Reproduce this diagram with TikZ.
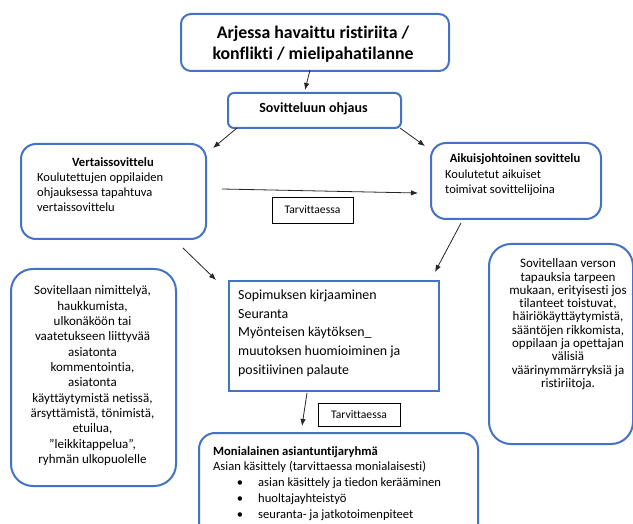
\documentclass[tikz,border=0pt]{standalone}
\usepackage{fontspec}
\setmainfont{Carlito}[Ligatures={NoCommon}]
\usetikzlibrary{arrows.meta}
\definecolor{boxblue}{RGB}{68,114,196}
\begin{document}
\begin{tikzpicture}[x=1pt,y=-1pt,
  bluebox/.style={draw=boxblue, line width=2pt, rounded corners=#1, inner sep=0pt, anchor=north west},
  plainbox/.style={draw=black, line width=0.8pt, inner sep=0pt, anchor=north west},
  txt/.style={inner sep=0pt, anchor=base},
  ltxt/.style={inner sep=0pt, anchor=base west},
  arr/.style={-{Latex[length=7pt,width=5.5pt]}, line width=0.8pt, draw=black!85},
  ftop/.style={font=\fontsize{17.8}{20}\selectfont\bfseries},
  fohj/.style={font=\fontsize{14}{16}\selectfont\bfseries},
  fhb/.style={font=\fontsize{12.6}{15}\selectfont\bfseries},
  fh/.style={font=\fontsize{12.5}{15}\selectfont},
  fside/.style={font=\fontsize{13}{15}\selectfont},
  fcen/.style={font=\fontsize{13.9}{16}\selectfont},
  fbot/.style={font=\fontsize{12.6}{15}\selectfont},
  fbotb/.style={font=\fontsize{12.6}{15}\selectfont\bfseries},
  ftarv/.style={font=\fontsize{11.6}{13}\selectfont}
]
\useasboundingbox (0,0) rectangle (633,524);
\clip (0,0) rectangle (633,524);
\fill[white] (0,0) rectangle (633,524);

% boxes
\node[bluebox=10pt, minimum width=268pt, minimum height=57pt] (top) at (180,13) {};
\node[bluebox=6pt, minimum width=173pt, minimum height=35pt] (ohj) at (227,92) {};
\node[bluebox=15pt, minimum width=185pt, minimum height=95pt] (vert) at (20,143) {};
\node[bluebox=15pt, minimum width=170pt, minimum height=76pt] (aik) at (430,142) {};
\node[bluebox=22pt, minimum width=165pt, minimum height=217pt] (lbox) at (10,268) {};
\node[bluebox=22pt, minimum width=144pt, minimum height=200pt] (rbox) at (488,243) {};
\node[draw=boxblue, line width=2pt, inner sep=0pt, anchor=north west, minimum width=210pt, minimum height=110pt] (cbox) at (228,280) {};
\node[bluebox=16pt, minimum width=279pt, minimum height=110pt] (bbox) at (198,432) {};
\node[plainbox, minimum width=81pt, minimum height=26pt] (tarv1) at (272,197) {};
\node[plainbox, minimum width=82pt, minimum height=23pt] (tarv2) at (318,403) {};

% texts
\node[txt, ftop] (t1) at (313,39) {Arjessa havaittu ristiriita /};
\node[txt, ftop] (t2) at (313,60) {konflikti / mielipahatilanne};
\node[txt, fohj] (o1) at (313.5,113) {Sovitteluun ohjaus};

\node[txt, fhb] (v0) at (113,167) {Vertaissovittelu};
\node[ltxt, fh] (v1) at (37,182) {Koulutettujen oppilaiden};
\node[ltxt, fh] (v2) at (37,197) {ohjauksessa tapahtuva};
\node[ltxt, fh] (v3) at (37,212) {vertaissovittelu};

\node[txt, fhb] (a0) at (515,163) {Aikuisjohtoinen sovittelu};
\node[ltxt, fh] (a1) at (445,179) {Koulutetut aikuiset};
\node[ltxt, fh] (a2) at (445,194) {toimivat sovittelijoina};

\node[txt, ftarv] (tt1) at (312.5,214) {Tarvittaessa};
\node[txt, ftarv] (tt2) at (359,418) {Tarvittaessa};

\foreach \t [count=\i] in {{Sovitellaan nimittelyä,}, {haukkumista,}, {ulkonäköön tai}, {vaatetukseen liittyvää}, {asiatonta}, {kommentointia,}, {asiatonta}, {käyttäytymistä netissä,}, {ärsyttämistä, tönimistä,}, {etuilua,}, {”leikkitappelua”,}, {ryhmän ulkopuolelle}}
  \node[txt, fside] (l\i) at (92.5,{295+15.3*(\i-1)}) {\t};

\foreach \t [count=\i] in {{Sovitellaan verson}, {tapauksia tarpeen}, {mukaan, erityisesti jos}, {tilanteet toistuvat,}, {häiriökäyttäytymistä,}, {sääntöjen rikkomista,}, {oppilaan ja opettajan}, {välisiä}, {väärinymmärryksiä ja}, {ristiriitoja.}}
  \node[txt, fside] (r\i) at (568,{268+13.25*(\i-1)}) {\t};

\foreach \t [count=\i] in {{Sopimuksen kirjaaminen}, {Seuranta}, {Myönteisen käytöksen\_}, {muutoksen huomioiminen ja}, {positiivinen palaute}}
  \node[ltxt, fcen] (c\i) at (238,{300+18.5*(\i-1)}) {\t};

\node[ltxt, fbotb] (b0) at (213,455) {Monialainen asiantuntijaryhmä};
\node[ltxt, fbot] (b1) at (213,470) {Asian käsittely (tarvittaessa monialaisesti)};
\foreach \t [count=\i] in {{asian käsittely ja tiedon kerääminen}, {huoltajayhteistyö}, {seuranta- ja jatkotoimenpiteet}} {
  \node[txt, fbot] (bb\i) at (240,{486+16*(\i-1)}) {\textbullet};
  \node[ltxt, fbot] (bt\i) at (258,{486+16*(\i-1)}) {\t};
}

% arrow coordinates
\coordinate (p1a) at (310,70);   \coordinate (p1b) at (305,90);
\coordinate (p2a) at (237,128);  \coordinate (p2b) at (213,148);
\coordinate (p3a) at (400,128);  \coordinate (p3b) at (425,146);
\coordinate (p4a) at (222,189);  \coordinate (p4b) at (418,193);
\coordinate (p5a) at (183,248);  \coordinate (p5b) at (216,280);
\coordinate (p6a) at (461,223);  \coordinate (p6b) at (435,272);
\coordinate (p7a) at (307,393);  \coordinate (p7b) at (302,426);

\draw[arr] (p1a) -- (p1b);
\draw[arr] (p2a) -- (p2b);
\draw[arr] (p3a) -- (p3b);
\draw[arr] (p4a) -- (p4b);
\draw[arr] (p5a) -- (p5b);
\draw[arr] (p6a) -- (p6b);
\draw[arr] (p7a) -- (p7b);
\end{tikzpicture}
\end{document}
